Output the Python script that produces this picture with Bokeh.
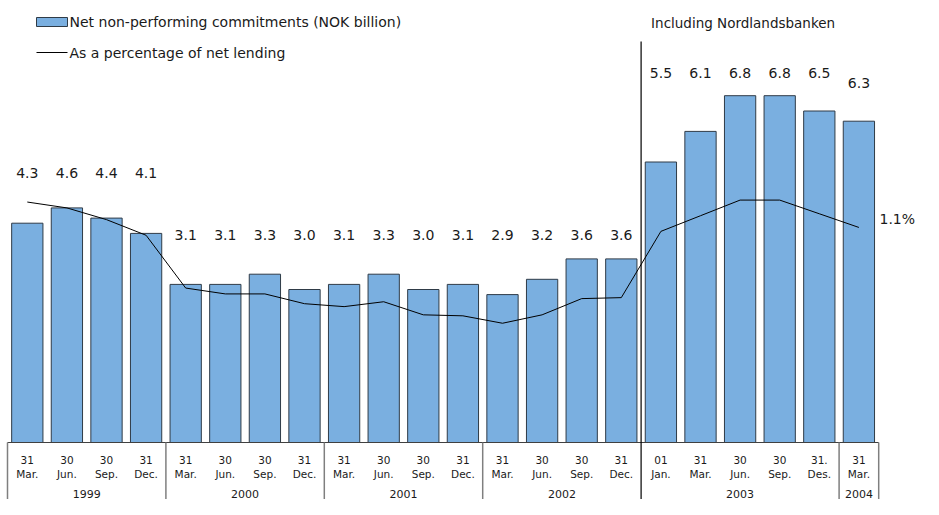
from bokeh.plotting import figure
from bokeh.models import Range1d, ColumnDataSource
from bokeh.core.properties import value
from bokeh.embed import file_html
from bokeh.resources import INLINE

# ---- data ----
day_labels = ["31", "30", "30", "31", "31", "30", "30", "31", "31", "30", "30", "31",
              "31", "30", "30", "31", "01", "31", "30", "30", "31.", "31"]
month_labels = ["Mar.", "Jun.", "Sep.", "Dec.", "Mar.", "Jun.", "Sep.", "Dec.",
                "Mar.", "Jun.", "Sep.", "Dec.", "Mar.", "Jun.", "Sep.", "Dec.",
                "Jan.", "Mar.", "Jun.", "Sep.", "Des.", "Mar."]
years = ["1999", "2000", "2001", "2002", "2003", "2004"]
year_counts = [4, 4, 4, 4, 5, 1]
nonperf = [4.3, 4.6, 4.4, 4.1, 3.1, 3.1, 3.3, 3.0, 3.1, 3.3, 3.0, 3.1,
           2.9, 3.2, 3.6, 3.6, 5.5, 6.1, 6.8, 6.8, 6.5, 6.3]
pct_lending = [1.23, 1.20, 1.14, 1.06, 0.79, 0.76, 0.76, 0.71, 0.695, 0.72, 0.653, 0.648,
               0.61, 0.653, 0.736, 0.741, 1.08, 1.16, 1.24, 1.24, 1.17, 1.10]

# layout: height (in bar units) of the value labels for each bar
label_levels = [5.29] * 4 + [4.06] * 12 + [7.25] * 5 + [7.04]

W, H = 923, 499
PX_X = 39.6      # px per category
PX_Y = 51.0      # px per NOK billion
PX_P = 195.5     # px per percent
LEFT = 7         # left edge of first category (px)
BASE_Y = 442     # baseline position from top (px)
BASE = H - BASE_Y

x0 = -0.5 - LEFT / PX_X
p = figure(width=W, height=H, output_backend="svg", toolbar_location=None,
           x_range=Range1d(x0, x0 + W / PX_X),
           y_range=Range1d(-BASE / PX_Y, BASE_Y / PX_Y),
           min_border=0, min_border_left=0, min_border_right=0,
           min_border_top=0, min_border_bottom=0)
p.extra_y_ranges = {"pct": Range1d(-BASE / PX_P, BASE_Y / PX_P)}
p.axis.visible = False
p.grid.visible = False
p.outline_line_color = None
p.background_fill_color = "white"


def dx(px):
    return x0 + px / PX_X


def dy(py):
    return (BASE_Y - py) / PX_Y


n = len(nonperf)
xs = list(range(n))
FONT = value("DejaVu Sans")
TXT = "#1a1a1a"

src = ColumnDataSource(dict(x=xs, top=nonperf, pct=pct_lending,
                            lab=[f"{v:.1f}" for v in nonperf], ly=label_levels,
                            day=day_labels, mon=month_labels))

# bars
p.vbar(x="x", top="top", bottom=0, width=0.79, source=src,
       fill_color="#7AAFE0", line_color="#2F3B47", line_width=1)

# percentage line
p.line(x="x", y="pct", source=src, y_range_name="pct", line_color="black", line_width=1)

# value labels
p.text(x="x", y="ly", text="lab", source=src, text_align="center",
       text_baseline="middle", text_font=FONT, text_font_size="14px", text_color=TXT)

# end label for the line
p.text(x=[xs[-1] + 0.52], y=[pct_lending[-1] + 0.045], text=[f"{pct_lending[-1]:.1f}%"],
       y_range_name="pct", text_align="left", text_baseline="middle",
       text_font=FONT, text_font_size="14px", text_color=TXT)

# baseline
p.segment(x0=[-0.5], y0=[0], x1=[n - 0.5], y1=[0], line_color="#404040", line_width=1)

# category labels
p.text(x="x", y=dy(BASE_Y + 17), text="day", source=src, text_align="center",
       text_baseline="middle", text_font=FONT, text_font_size="10.5px", text_color=TXT)
p.text(x="x", y=dy(BASE_Y + 31), text="mon", source=src, text_align="center",
       text_baseline="middle", text_font=FONT, text_font_size="10.5px", text_color=TXT)

# year labels and separators
edges = [-0.5]
for c in year_counts:
    edges.append(edges[-1] + c)
centers = [(edges[i] + edges[i + 1]) / 2 for i in range(len(years))]
p.text(x=centers, y=[dy(BASE_Y + 51)] * len(years), text=years, text_align="center",
       text_baseline="middle", text_font=FONT, text_font_size="11px", text_color=TXT)

bottom = dy(H)
sep_x = [e for i, e in enumerate(edges) if i != 4]
p.segment(x0=sep_x, y0=[0] * len(sep_x), x1=sep_x, y1=[bottom] * len(sep_x),
          line_color="#7F7F7F", line_width=1.5)
# Nordlandsbanken divider
p.segment(x0=[edges[4]], y0=[dy(41)], x1=[edges[4]], y1=[bottom],
          line_color="black", line_width=1.2)
p.text(x=[edges[4] + 10 / PX_X], y=[dy(22)],
       text=["Including Nordlandsbanken"], text_align="left", text_baseline="middle",
       text_font=FONT, text_font_size="13.5px", text_color=TXT)

# legend (drawn manually)
lx0, lx1, ltx = dx(36), dx(67), dx(69)
p.quad(left=[lx0], right=[lx1], top=[dy(17)], bottom=[dy(26)],
       fill_color="#7AAFE0", line_color="#2F3B47", line_width=1)
p.text(x=[ltx], y=[dy(21)], text=["Net non-performing commitments (NOK billion)"],
       text_align="left", text_baseline="middle", text_font=FONT,
       text_font_size="14px", text_color=TXT)
p.segment(x0=[lx0], y0=[dy(52)], x1=[lx1], y1=[dy(52)],
          line_color="black", line_width=1)
p.text(x=[ltx], y=[dy(52)], text=["As a percentage of net lending"],
       text_align="left", text_baseline="middle", text_font=FONT,
       text_font_size="14px", text_color=TXT)

open("out.html", "w").write(file_html(p, INLINE))
